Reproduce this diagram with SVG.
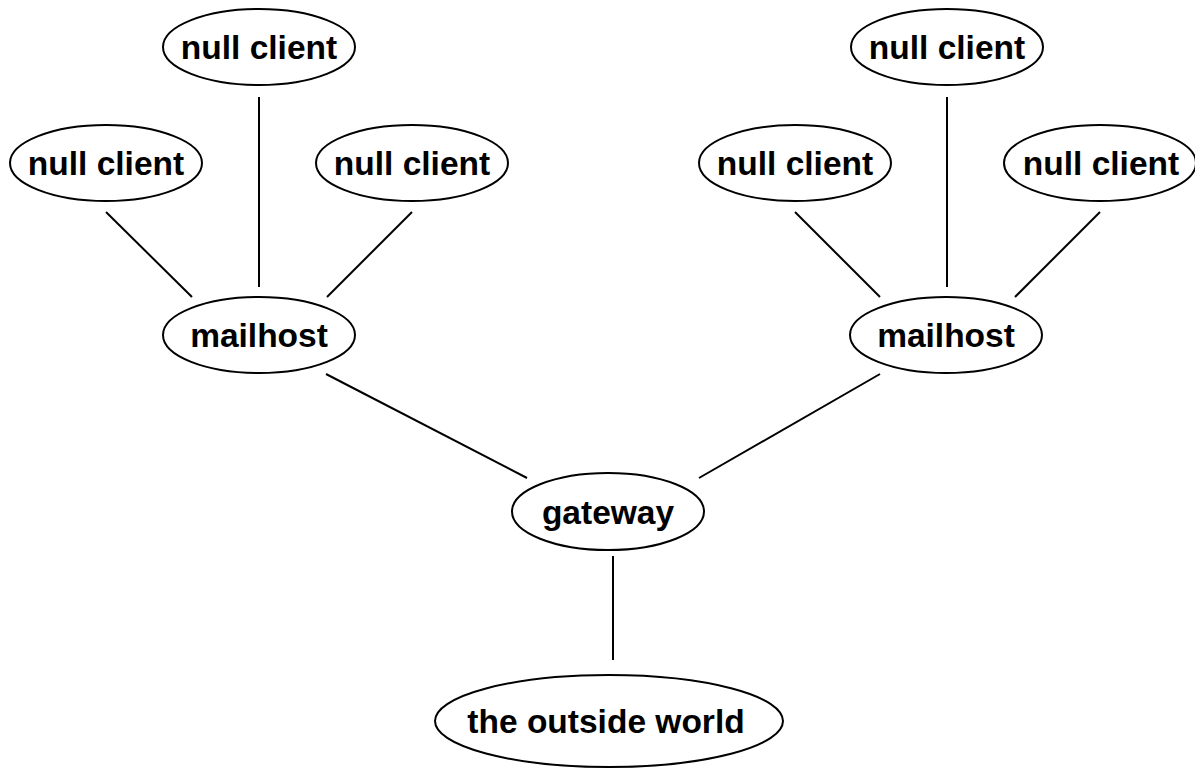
<svg xmlns="http://www.w3.org/2000/svg" width="1195" height="768" viewBox="0 0 1195 768">
<style>
.node ellipse{fill:#fff;stroke:#000;stroke-width:2}
.node text{font-family:"Liberation Sans",Arial,sans-serif;font-weight:bold;font-size:33.5px;text-anchor:middle;fill:#000}
#connectors line{stroke:#000;stroke-width:2}
</style>
<rect width="1195" height="768" fill="#fff"/>
<g id="connectors">
<line x1="106" y1="212" x2="192" y2="297"/>
<line x1="259" y1="97" x2="259" y2="287"/>
<line x1="412" y1="212" x2="327" y2="297"/>
<line x1="795" y1="212" x2="880" y2="297"/>
<line x1="947" y1="97" x2="947" y2="287"/>
<line x1="1100" y1="212" x2="1015" y2="297"/>
<line x1="326" y1="374" x2="527" y2="478"/>
<line x1="880" y1="374" x2="699" y2="478"/>
<line x1="613" y1="556" x2="613" y2="660"/>
</g>
<g id="nc1" class="node"><ellipse cx="259" cy="47" rx="96" ry="38"/><text x="259" y="59">null client</text></g>
<g id="nc2" class="node"><ellipse cx="106" cy="163" rx="96" ry="38"/><text x="106" y="175">null client</text></g>
<g id="nc3" class="node"><ellipse cx="412" cy="163" rx="96" ry="38"/><text x="412" y="175">null client</text></g>
<g id="mh1" class="node"><ellipse cx="259" cy="335" rx="96" ry="38"/><text x="259" y="347">mailhost</text></g>
<g id="nc4" class="node"><ellipse cx="947" cy="47" rx="96" ry="38"/><text x="947" y="59">null client</text></g>
<g id="nc5" class="node"><ellipse cx="795" cy="163" rx="96" ry="38"/><text x="795" y="175">null client</text></g>
<g id="nc6" class="node"><ellipse cx="1100" cy="163" rx="96" ry="38"/><text x="1101" y="175">null client</text></g>
<g id="mh2" class="node"><ellipse cx="946" cy="335" rx="96" ry="38"/><text x="946" y="347">mailhost</text></g>
<g id="gw" class="node"><ellipse cx="608" cy="511.5" rx="96" ry="38.5"/><text x="608" y="523.5">gateway</text></g>
<g id="world" class="node"><ellipse cx="609" cy="721" rx="174" ry="46"/><text x="606" y="733">the outside world</text></g>
</svg>
